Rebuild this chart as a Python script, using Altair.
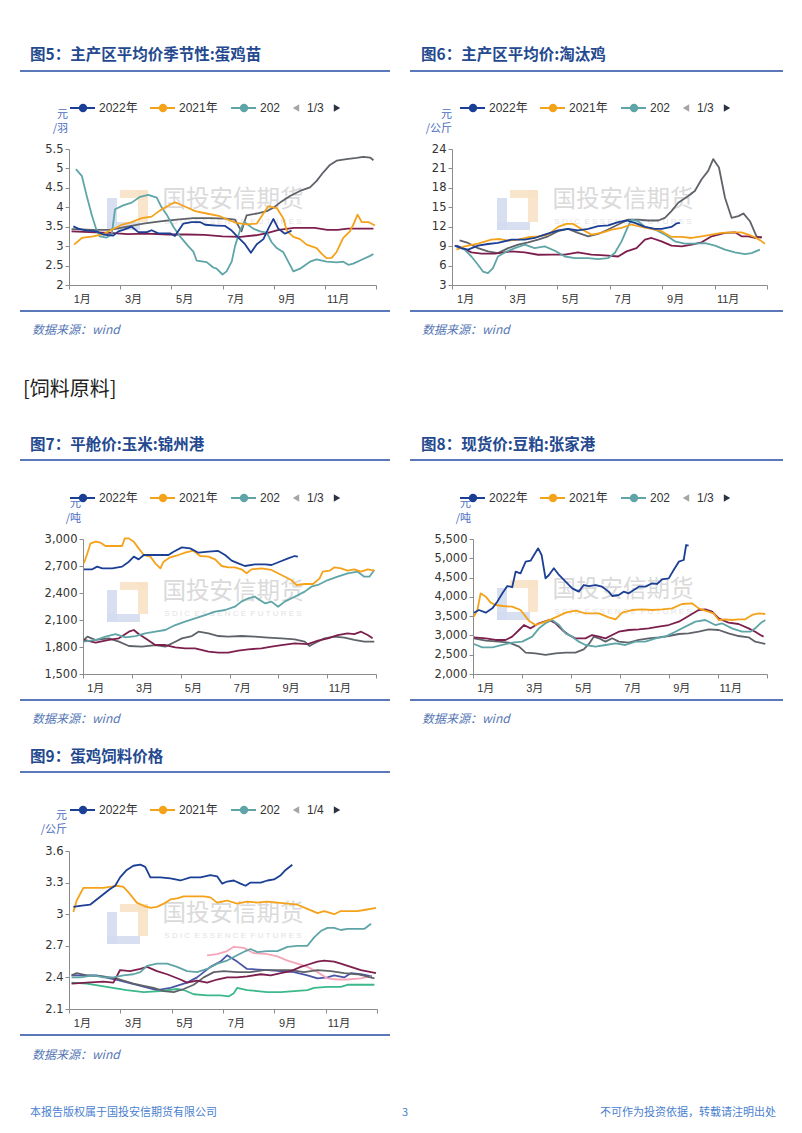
import altair as alt
import pandas as pd

# ---------------- data: x = months elapsed since 1 Jan (0..12), y = price ----------------
SERIES_NAMES = ["2022年", "2021年", "2020年", "2019年", "2018年", "2017年", "2016年", "2015年"]
SERIES_COLORS = ["#1b3f95", "#f5a21b", "#5fa5a8", "#7d1f4d", "#5f6369", "#f4a6b8", "#3cb88a", "#4b55a8"]
MONTH_TICKS = [0, 2, 4, 6, 8, 10, 12]

# 图5 蛋鸡苗 (元/羽)
P5_Y2022 = [(0.17,3.51),(0.36,3.45),(0.69,3.40),(1.08,3.38),(1.34,3.30),(1.73,3.27),(1.93,3.38),(2.12,3.42),(2.45,3.50),(2.71,3.36),(3.04,3.36),(3.23,3.41),(3.49,3.33),(3.95,3.33),(4.14,3.26),(4.47,3.58),(4.79,3.62),(5.12,3.62),(5.32,3.55),(5.77,3.53),(6.10,3.52),(6.36,3.40),(6.62,3.22),(6.88,3.05),(7.11,2.83),(7.34,3.05),(7.60,3.18),(7.79,3.45),(7.99,3.70),(8.18,3.45),(8.44,3.32),(8.70,3.40)]
P5_Y2021 = [(0.20,3.04),(0.50,3.21),(0.95,3.25),(1.34,3.31),(1.73,3.44),(2.06,3.55),(2.45,3.62),(2.84,3.72),(3.23,3.76),(3.56,3.92),(3.82,4.02),(4.14,4.13),(4.53,4.02),(4.93,3.90),(5.38,3.84),(5.90,3.77),(6.29,3.66),(6.55,3.60),(6.94,3.56),(7.34,3.58),(7.60,3.84),(7.79,4.03),(8.12,3.98),(8.38,3.71),(8.51,3.40),(8.77,3.24),(9.03,3.18),(9.29,3.04),(9.68,2.95),(9.88,2.80),(10.07,2.69),(10.27,2.70),(10.46,2.85),(10.72,3.21),(10.98,3.38),(11.11,3.55),(11.28,3.81),(11.44,3.62),(11.70,3.62),(11.96,3.53)]
P5_Y2020 = [(0.27,4.98),(0.50,4.81),(0.69,4.30),(0.89,3.80),(1.08,3.40),(1.21,3.25),(1.47,3.22),(1.67,3.30),(1.80,3.95),(2.12,4.05),(2.45,4.12),(2.78,4.27),(3.10,4.32),(3.43,4.25),(3.62,4.00),(3.82,3.81),(4.08,3.50),(4.34,3.25),(4.66,3.00),(4.86,2.86),(4.99,2.63),(5.38,2.59),(5.64,2.45),(5.77,2.42),(6.00,2.27),(6.16,2.35),(6.36,2.60),(6.49,3.00),(6.68,3.40),(6.85,3.62),(7.00,3.55),(7.20,3.45),(7.47,3.38),(7.73,3.35),(7.92,3.10),(8.12,2.95),(8.38,2.84),(8.57,2.60),(8.77,2.35),(9.03,2.42),(9.42,2.60),(9.68,2.66),(10.07,2.60),(10.46,2.58),(10.72,2.60),(10.92,2.52),(11.11,2.55),(11.44,2.65),(11.77,2.75),(11.90,2.80)]
P5_Y2019 = [(0.10,3.38),(0.80,3.36),(1.60,3.34),(2.30,3.31),(3.00,3.32),(3.90,3.30),(4.60,3.30),(5.30,3.29),(6.00,3.25),(6.70,3.24),(7.30,3.28),(7.70,3.33),(8.20,3.42),(8.80,3.47),(9.60,3.47),(10.10,3.42),(10.50,3.42),(10.90,3.45),(11.90,3.45)]
P5_Y2018 = [(0.10,3.44),(0.95,3.42),(1.60,3.42),(2.28,3.50),(2.90,3.58),(3.56,3.64),(4.21,3.68),(4.86,3.72),(5.51,3.72),(6.16,3.71),(6.49,3.68),(6.74,3.38),(6.94,3.79),(7.34,3.84),(7.73,3.90),(7.99,3.99),(8.25,4.12),(8.64,4.29),(9.03,4.42),(9.42,4.51),(9.68,4.68),(9.94,4.90),(10.20,5.09),(10.46,5.20),(10.85,5.24),(11.24,5.27),(11.50,5.30),(11.77,5.28),(11.90,5.21)]

# 图6 淘汰鸡 (元/公斤)
P6_Y2022 = [(0.10,9.07),(0.36,8.70),(0.61,8.45),(0.99,9.07),(1.37,9.33),(1.75,9.50),(2.26,10.0),(2.77,10.0),(3.15,10.26),(3.53,10.78),(4.04,11.45),(4.42,11.66),(4.80,11.45),(5.19,11.66),(5.57,12.08),(5.95,12.2),(6.33,12.7),(6.65,12.96),(6.97,12.6),(7.35,11.97),(7.73,11.66),(7.99,11.66),(8.36,11.97),(8.55,12.5),(8.68,12.6)]
P6_Y2021 = [(0.17,8.45),(0.48,8.97),(0.99,9.38),(1.50,10.0),(1.82,10.1),(2.14,9.85),(2.52,10.0),(2.90,10.37),(3.28,10.52),(3.66,10.78),(4.04,11.97),(4.36,12.44),(4.61,12.44),(4.93,11.66),(5.31,10.78),(5.69,11.04),(6.08,11.56),(6.46,11.82),(6.84,12.34),(7.22,11.97),(7.60,11.66),(7.98,11.3),(8.36,10.42),(8.75,10.42),(9.13,10.26),(9.51,10.52),(9.89,10.78),(10.27,11.04),(10.65,11.14),(11.03,11.14),(11.29,10.78),(11.54,10.37),(11.80,9.74),(11.92,9.38)]
P6_Y2020 = [(0.17,8.97),(0.48,8.45),(0.74,7.40),(0.99,6.12),(1.18,5.08),(1.37,4.82),(1.56,5.60),(1.75,7.40),(2.01,8.03),(2.39,8.70),(2.77,9.22),(3.15,8.70),(3.53,8.97),(3.92,8.29),(4.30,7.40),(4.68,7.15),(5.19,7.15),(5.57,7.00),(5.95,7.15),(6.20,7.93),(6.46,9.74),(6.71,12.08),(6.84,13.10),(7.09,12.85),(7.35,11.97),(7.73,11.56),(8.11,10.78),(8.49,9.74),(8.87,9.38),(9.25,9.38),(9.64,9.48),(10.02,9.07),(10.40,8.45),(10.78,8.03),(11.16,7.77),(11.41,7.93),(11.73,8.45)]
P6_Y2019 = [(0.17,9.07),(0.48,8.55),(0.74,8.03),(1.12,7.83),(1.63,7.83),(2.26,8.19),(2.77,8.03),(3.28,7.67),(3.79,7.70),(4.30,7.70),(4.80,8.03),(5.31,7.70),(5.82,7.57),(6.33,7.40),(6.65,8.19),(7.03,8.70),(7.35,10.0),(7.60,10.26),(7.98,9.74),(8.36,9.07),(8.75,8.97),(9.13,9.22),(9.51,9.59),(9.89,10.52),(10.40,11.04),(10.78,11.14),(11.03,10.52),(11.29,10.52),(11.54,10.26),(11.80,10.42)]
P6_Y2018 = [(0.29,9.90),(0.61,9.49),(0.99,8.70),(1.37,8.19),(1.75,7.93),(2.14,8.70),(2.52,9.22),(2.90,9.59),(3.28,10.0),(3.66,10.52),(4.04,11.3),(4.42,11.66),(4.80,11.04),(5.19,10.52),(5.57,10.88),(5.95,11.56),(6.33,12.34),(6.71,13.1),(7.09,13.1),(7.47,12.96),(7.86,12.96),(8.11,13.37),(8.36,14.41),(8.62,15.7),(9.00,16.74),(9.25,17.52),(9.51,19.33),(9.76,20.63),(9.95,22.44),(10.17,21.15),(10.40,16.48),(10.65,13.37),(10.91,13.63),(11.10,14.05),(11.35,12.85),(11.60,10.52),(11.80,10.26)]

# 图7 玉米 锦州港 (元/吨)
P7_Y2022 = [(0.04,2663),(0.38,2663),(0.58,2693),(0.79,2674),(1.20,2674),(1.60,2693),(1.88,2748),(2.08,2804),(2.28,2774),(2.49,2822),(2.96,2822),(3.50,2822),(3.71,2859),(4.05,2907),(4.39,2896),(4.73,2848),(5.14,2859),(5.54,2867),(5.82,2822),(6.09,2759),(6.36,2730),(6.63,2700),(7.04,2718),(7.45,2718),(7.72,2711),(8.13,2756),(8.40,2785),(8.67,2811),(8.80,2804)]
P7_Y2021 = [(0.04,2730),(0.18,2841),(0.31,2952),(0.52,2970),(0.72,2959),(0.92,2922),(1.33,2922),(1.60,2922),(1.71,3007),(1.88,3007),(2.08,2970),(2.28,2896),(2.49,2822),(2.76,2804),(2.96,2730),(3.17,2674),(3.30,2748),(3.57,2796),(3.91,2822),(4.18,2848),(4.52,2870),(4.80,2811),(5.14,2804),(5.41,2774),(5.68,2700),(5.95,2685),(6.22,2685),(6.49,2663),(6.70,2619),(6.90,2663),(7.31,2674),(7.72,2656),(8.13,2600),(8.53,2544),(8.74,2489),(9.08,2500),(9.42,2500),(9.69,2563),(9.82,2637),(10.10,2648),(10.30,2685),(10.57,2674),(10.84,2648),(11.11,2663),(11.39,2637),(11.66,2663),(11.93,2648)]
P7_Y2020 = [(0.04,1859),(0.52,1878),(0.92,1915),(1.33,1944),(1.74,1907),(2.15,1922),(2.55,1952),(2.96,1970),(3.37,1989),(3.78,2044),(4.18,2081),(4.59,2118),(5.00,2155),(5.41,2193),(5.82,2211),(6.22,2248),(6.49,2304),(6.77,2341),(7.04,2359),(7.24,2322),(7.45,2285),(7.72,2304),(7.99,2248),(8.26,2304),(8.67,2359),(9.08,2415),(9.35,2470),(9.62,2489),(10.03,2544),(10.43,2581),(10.84,2619),(11.25,2637),(11.52,2581),(11.73,2581),(11.93,2656)]
P7_Y2019 = [(0.04,1878),(0.52,1848),(1.06,1878),(1.47,1896),(1.88,1970),(2.08,1989),(2.28,1944),(2.55,1896),(2.96,1822),(3.37,1822),(3.78,1796),(4.18,1785),(4.59,1785),(5.14,1748),(5.54,1737),(5.95,1737),(6.36,1759),(6.77,1774),(7.31,1785),(7.72,1804),(8.13,1822),(8.67,1841),(9.21,1833),(9.62,1870),(10.03,1896),(10.43,1933),(10.84,1952),(11.11,1944),(11.39,1970),(11.66,1933),(11.86,1896)]
P7_Y2018 = [(0.04,1878),(0.18,1915),(0.52,1878),(1.06,1896),(1.47,1859),(1.88,1811),(2.42,1804),(2.96,1822),(3.37,1804),(3.78,1859),(4.05,1896),(4.46,1922),(4.73,1970),(5.14,1952),(5.54,1922),(5.95,1915),(6.49,1922),(7.04,1915),(7.58,1904),(8.13,1896),(8.67,1885),(9.08,1859),(9.28,1811),(9.48,1841),(9.89,1896),(10.30,1915),(10.71,1904),(11.11,1878),(11.52,1859),(11.93,1859)]

# 图8 豆粕 张家港 (元/吨)
P8_Y2022 = [(0.04,3590),(0.24,3659),(0.52,3590),(0.79,3702),(0.99,3875),(1.20,4091),(1.40,4281),(1.60,4250),(1.74,4653),(1.94,4610),(2.15,4912),(2.35,4938),(2.49,5085),(2.66,5258),(2.80,5085),(2.96,4480),(3.10,4567),(3.30,4740),(3.51,4567),(3.78,4394),(4.05,4221),(4.32,4135),(4.52,4307),(4.73,4281),(5.00,4307),(5.27,4264),(5.54,4135),(5.68,4022),(5.95,4048),(6.15,4135),(6.36,4091),(6.56,4178),(6.77,4264),(7.04,4264),(7.31,4351),(7.51,4334),(7.72,4454),(7.99,4480),(8.19,4696),(8.40,4912),(8.60,4956),(8.70,5344),(8.80,5330)]
P8_Y2021 = [(0.04,3486),(0.18,3659),(0.31,4091),(0.52,4005),(0.72,3849),(0.92,3789),(1.20,3763),(1.60,3745),(1.94,3659),(2.28,3383),(2.55,3270),(2.96,3357),(3.37,3469),(3.78,3590),(4.18,3642),(4.59,3573),(5.14,3573),(5.54,3469),(5.82,3417),(6.09,3590),(6.49,3659),(6.90,3677),(7.31,3659),(7.72,3677),(8.13,3702),(8.53,3815),(8.94,3832),(9.21,3702),(9.48,3642),(9.82,3573),(10.03,3400),(10.30,3417),(10.57,3400),(10.84,3417),(11.11,3417),(11.39,3530),(11.66,3573),(11.93,3556)]
P8_Y2020 = [(0.04,2778),(0.38,2691),(0.79,2691),(1.20,2752),(1.60,2812),(2.01,2838),(2.42,2968),(2.69,3184),(2.96,3314),(3.23,3400),(3.51,3270),(3.78,3054),(4.05,2968),(4.32,2838),(4.59,2752),(5.00,2709),(5.41,2752),(5.82,2795),(6.22,2752),(6.63,2838),(7.04,2838),(7.45,2925),(7.85,2968),(8.26,3097),(8.67,3227),(9.08,3357),(9.48,3400),(9.89,3270),(10.16,3314),(10.57,3184),(10.98,3097),(11.32,3097),(11.52,3184),(11.73,3314),(11.93,3400)]
P8_Y2019 = [(0.04,2951),(0.52,2925),(0.92,2882),(1.33,2882),(1.60,2968),(1.88,3141),(2.08,3270),(2.35,3184),(2.69,3314),(3.10,3400),(3.37,3314),(3.64,3141),(3.91,3011),(4.18,2925),(4.59,2925),(4.86,3011),(5.14,2968),(5.41,2925),(5.68,3011),(5.95,3097),(6.36,3141),(6.77,3158),(7.17,3184),(7.58,3227),(7.99,3270),(8.40,3357),(8.80,3504),(9.21,3659),(9.48,3677),(9.76,3616),(10.03,3443),(10.43,3331),(10.84,3296),(11.25,3184),(11.52,3097),(11.73,3011),(11.86,2968)]
P8_Y2018 = [(0.04,2925),(0.52,2864),(1.06,2838),(1.47,2812),(1.88,2709),(2.15,2553),(2.55,2536),(2.96,2493),(3.37,2536),(3.78,2553),(4.18,2553),(4.52,2640),(4.73,2778),(4.93,2968),(5.14,2925),(5.41,2838),(5.68,2925),(5.95,2838),(6.36,2812),(6.77,2882),(7.17,2925),(7.58,2951),(7.99,2985),(8.40,3037),(8.80,3054),(9.21,3097),(9.62,3158),(10.03,3141),(10.43,3054),(10.84,2985),(11.25,2951),(11.52,2838),(11.93,2778)]

# 图9 蛋鸡饲料价格 (元/公斤)
P9_Y2022 = [(0.17,3.07),(0.43,3.08),(0.82,3.09),(1.08,3.14),(1.34,3.19),(1.60,3.24),(1.80,3.27),(1.99,3.35),(2.25,3.42),(2.51,3.46),(2.78,3.47),(2.97,3.45),(3.17,3.35),(3.56,3.35),(3.95,3.34),(4.34,3.32),(4.73,3.35),(5.12,3.35),(5.51,3.37),(5.77,3.36),(5.97,3.29),(6.16,3.31),(6.42,3.32),(6.68,3.29),(6.88,3.27),(7.07,3.30),(7.47,3.30),(7.73,3.32),(7.99,3.33),(8.25,3.37),(8.44,3.42),(8.70,3.47)]
P9_Y2021 = [(0.17,3.02),(0.30,3.13),(0.56,3.25),(0.95,3.25),(1.34,3.25),(1.60,3.26),(1.86,3.27),(2.12,3.26),(2.38,3.19),(2.64,3.11),(2.91,3.08),(3.17,3.06),(3.43,3.07),(3.69,3.10),(3.95,3.14),(4.21,3.15),(4.47,3.17),(4.86,3.17),(5.25,3.17),(5.51,3.16),(5.77,3.11),(6.16,3.13),(6.55,3.10),(6.94,3.12),(7.34,3.11),(7.73,3.12),(8.12,3.11),(8.51,3.10),(8.90,3.09),(9.29,3.05),(9.68,3.01),(9.94,3.03),(10.33,3.00),(10.59,3.03),(10.98,3.03),(11.24,3.03),(11.50,3.04),(11.96,3.06)]
P9_Y2020 = [(0.10,2.40),(0.43,2.40),(0.95,2.42),(1.34,2.40),(1.73,2.40),(2.12,2.42),(2.51,2.43),(2.78,2.45),(3.04,2.51),(3.43,2.53),(3.82,2.53),(4.21,2.50),(4.60,2.46),(4.99,2.45),(5.38,2.48),(5.77,2.53),(6.16,2.56),(6.55,2.61),(6.88,2.65),(7.07,2.67),(7.34,2.64),(7.73,2.65),(8.12,2.65),(8.51,2.69),(8.90,2.70),(9.29,2.70),(9.55,2.78),(9.81,2.84),(10.07,2.87),(10.33,2.87),(10.59,2.85),(10.85,2.86),(11.11,2.86),(11.50,2.86),(11.77,2.91)]
P9_Y2019 = [(0.10,2.34),(0.69,2.35),(1.34,2.36),(1.73,2.35),(1.99,2.47),(2.38,2.46),(2.78,2.48),(3.04,2.50),(3.43,2.46),(3.82,2.43),(4.34,2.38),(4.60,2.35),(4.99,2.37),(5.38,2.35),(5.77,2.38),(6.16,2.40),(6.55,2.40),(6.94,2.41),(7.47,2.43),(7.86,2.42),(8.25,2.44),(8.64,2.46),(9.03,2.50),(9.29,2.52),(9.68,2.55),(9.94,2.56),(10.33,2.55),(10.59,2.53),(10.98,2.50),(11.37,2.47),(11.77,2.45),(11.96,2.44)]
P9_Y2018 = [(0.10,2.42),(0.30,2.44),(0.69,2.42),(1.34,2.41),(1.99,2.38),(2.51,2.34),(2.91,2.32),(3.30,2.30),(3.69,2.27),(4.08,2.26),(4.47,2.29),(4.86,2.33),(5.25,2.40),(5.64,2.45),(6.03,2.46),(6.55,2.45),(7.07,2.45),(7.60,2.47),(8.12,2.47),(8.64,2.47),(9.16,2.45),(9.68,2.47),(10.20,2.46),(10.72,2.44),(11.24,2.43),(11.60,2.41),(11.90,2.39)]
P9_Y2017 = [(5.38,2.61),(5.77,2.62),(6.16,2.65),(6.42,2.69),(6.81,2.68),(7.20,2.63),(7.73,2.62),(8.12,2.60),(8.51,2.56),(8.90,2.53),(9.29,2.50),(9.68,2.45),(10.07,2.39),(10.46,2.38),(10.85,2.38),(11.37,2.39),(11.77,2.41)]
P9_Y2016 = [(0.10,2.35),(0.69,2.34),(1.47,2.31),(2.25,2.28),(2.91,2.26),(3.56,2.27),(4.21,2.29),(4.47,2.28),(4.86,2.24),(5.38,2.23),(5.90,2.23),(6.23,2.22),(6.42,2.25),(6.55,2.30),(6.94,2.28),(7.34,2.27),(7.73,2.26),(8.25,2.26),(8.77,2.27),(9.29,2.28),(9.55,2.30),(10.07,2.31),(10.59,2.31),(10.85,2.33),(11.37,2.33),(11.90,2.33)]
P9_Y2015 = [(0.10,2.42),(0.69,2.42),(1.08,2.42),(1.99,2.37),(2.64,2.33),(3.43,2.28),(3.95,2.30),(4.60,2.35),(4.99,2.40),(5.51,2.50),(5.90,2.55),(6.16,2.61),(6.55,2.55),(6.94,2.48),(7.73,2.47),(8.77,2.45),(9.29,2.42),(9.68,2.39),(10.07,2.40),(10.33,2.42),(10.72,2.40),(10.98,2.44),(11.37,2.43),(11.80,2.41)]

# ---------------- styling ----------------
FONT_CJK = "Noto Sans CJK SC"
FONT_NUM = "Liberation Sans, Noto Sans CJK SC"
TITLE_COLOR = "#24498f"
RULE_COLOR = "#5b79b8"
SRC_COLOR = "#5577b5"
UNIT_COLOR = "#4a6cc0"
AXIS_COLOR = "#8c8c8c"
NB = "\u00a0"

ONE = pd.DataFrame({"k": [0]})


def T(text, px, py, ox, oy, **kw):
    return alt.Chart(ONE).mark_text(text=text, **kw).encode(
        x=alt.value(px - ox), y=alt.value(py - oy))


def R(x1, x2, y, ox, oy, color, width):
    return alt.Chart(ONE).mark_rule(color=color, strokeWidth=width).encode(
        x=alt.value(x1 - ox), x2=alt.value(x2 - ox), y=alt.value(y - oy))


def B(x1, x2, y1, y2, ox, oy, color, opacity=1.0):
    return alt.Chart(ONE).mark_rect(color=color, opacity=opacity).encode(
        x=alt.value(x1 - ox), x2=alt.value(x2 - ox), y=alt.value(y1 - oy), y2=alt.value(y2 - oy))


def P(px, py, ox, oy, color, shape="circle", size=70):
    return alt.Chart(ONE).mark_point(filled=True, opacity=1, shape=shape, size=size, color=color).encode(
        x=alt.value(px - ox), y=alt.value(py - oy))


def watermark(cx, cy, ox, oy):
    o = "#f8e2c6"
    b = "#d3dbef"
    sdic = (NB * 2).join(NB.join(w) for w in ["SDIC", "ESSENCE", "FUTURES"])
    return [
        B(cx - 113, cx - 85, cy - 10, cy - 2, ox, oy, o, 0.9),
        B(cx - 95, cx - 85, cy - 10, cy + 22, ox, oy, o, 0.9),
        B(cx - 126, cx - 116, cy - 2, cy + 30, ox, oy, b, 0.9),
        B(cx - 126, cx - 93, cy + 22, cy + 30, ox, oy, b, 0.9),
        T("国投安信期货", cx, cy, ox, oy, font=FONT_CJK, fontSize=23.5, color="#dadada"),
        T(sdic, cx, cy + 22, ox, oy, font="Liberation Sans", fontSize=8, color="#e2e2e2"),
    ]


def legend(base, ly, page, ox, oy):
    out = []
    items = [("2022年", SERIES_COLORS[0]), ("2021年", SERIES_COLORS[1]), ("202", SERIES_COLORS[2])]
    for (lab, col), d in zip(items, [0, 80, 161]):
        x0 = base + d
        out.append(R(x0, x0 + 25, ly, ox, oy, col, 2))
        out.append(P(x0 + 13, ly, ox, oy, col, "circle", 70))
        out.append(T(lab, x0 + 29, ly, ox, oy, align="left", baseline="middle",
                     font=FONT_NUM, fontSize=12, color="#333333"))
    out.append(P(base + 226, ly, ox, oy, "#a5a5a5", "triangle-left", 55))
    out.append(T(page, base + 237, ly, ox, oy, align="left", baseline="middle",
                 font=FONT_NUM, fontSize=12, color="#333333"))
    out.append(P(base + 267, ly, ox, oy, "#2b3440", "triangle-right", 55))
    return out


ROWS = {
    "A": dict(title_y=55, line_y=71, legend_y=108, unit_y=(115, 129), bottom_y=311, source_y=330),
    "B": dict(title_y=445, line_y=460, legend_y=498, unit_y=(504, 518.5), bottom_y=700, source_y=719),
    "C": dict(title_y=757, line_y=772, legend_y=810, unit_y=(816, 830), bottom_y=1035, source_y=1055),
}
COLS = {
    "L": dict(title_x=30, rule=(20, 390), legend_x=70, source_x=32),
    "R": dict(title_x=421, rule=(410, 783), legend_x=460, source_x=422),
}


def panel(series, ydom, yvals, yfmt, w, h, xmin, ox, oy, col, row, title, unit, unit_x, page, wm, extra=()):
    recs = []
    for name, pts in reversed(series):
        for m, v in pts:
            recs.append({"m": m, "v": v, "s": name})
    df = pd.DataFrame(recs)
    xscale = alt.Scale(domain=[0, 12], nice=False, zero=False)
    if xmin:
        xscale = alt.Scale(domain=[0, 12], nice=False, zero=False, rangeMin=xmin)
    lines = alt.Chart(df).mark_line(strokeWidth=1.8, strokeJoin="round").encode(
        x=alt.X("m:Q", scale=xscale,
                axis=alt.Axis(values=MONTH_TICKS, title=None, grid=False,
                              labelExpr="datum.value < 12 ? (datum.value + 1) + '月' : ''",
                              labelAlign="center", labelOffset=(w - xmin) / 24.0, labelBaseline="top",
                              labelPadding=4, labelFont=FONT_NUM, labelFontSize=11,
                              labelColor="#333333", labelFlush=False, labelOverlap=False,
                              domainColor=AXIS_COLOR, tickColor=AXIS_COLOR, tickSize=4)),
        y=alt.Y("v:Q", scale=alt.Scale(domain=ydom, nice=False, zero=False),
                axis=alt.Axis(values=yvals, format=yfmt, title=None, grid=False, offset=-xmin,
                              labelFont="DejaVu Sans", labelFontSize=11.5, labelColor="#333333",
                              labelPadding=2, labelFlush=False, labelOverlap=False,
                              domainColor=AXIS_COLOR, tickColor=AXIS_COLOR, tickSize=4)),
        color=alt.Color("s:N", scale=alt.Scale(domain=SERIES_NAMES, range=SERIES_COLORS), legend=None),
    )
    r = ROWS[row]
    c = COLS[col]
    deco = [
        T(title, c["title_x"], r["title_y"], ox, oy, align="left", baseline="middle",
          font=FONT_CJK, fontSize=15.5, fontWeight="bold", color=TITLE_COLOR),
        R(c["rule"][0], c["rule"][1], r["line_y"], ox, oy, RULE_COLOR, 1.8),
        R(c["rule"][0], c["rule"][1], r["bottom_y"], ox, oy, RULE_COLOR, 1.8),
        T("数据来源：wind", c["source_x"], r["source_y"], ox, oy, align="left", baseline="middle",
          font=FONT_CJK, fontSize=12, fontStyle="italic", color=SRC_COLOR),
        T(unit[0], unit_x, r["unit_y"][0], ox, oy, align="right", baseline="middle",
          font=FONT_CJK, fontSize=11, color=UNIT_COLOR),
        T(unit[1], unit_x, r["unit_y"][1], ox, oy, align="right", baseline="middle",
          font=FONT_CJK, fontSize=11, color=UNIT_COLOR),
    ]
    deco += legend(c["legend_x"], r["legend_y"], page, ox, oy)
    layers = watermark(wm[0], wm[1], ox, oy) + [lines] + deco + list(extra)
    return alt.layer(*layers).properties(width=w, height=h)


def spacer(w, h):
    return alt.Chart(ONE).mark_point(opacity=0).encode(
        x=alt.value(0), y=alt.value(0)).properties(width=w, height=h)


# ---- panels (view origins on the page: left column x=69, right column x=452) ----
p5 = panel([("2022年", P5_Y2022), ("2021年", P5_Y2021), ("2020年", P5_Y2020), ("2019年", P5_Y2019), ("2018年", P5_Y2018)],
           [2, 5.5], [2, 2.5, 3, 3.5, 4, 4.5, 5, 5.5], "~g", 307, 136, 0, 69, 149, "L", "A",
           "图5：主产区平均价季节性:蛋鸡苗", ("元", "/羽"), 68, "1/3", (233, 200),
           extra=[B(8, 9, 8, 9, 69, 149, "#ffffff", 0.0)])
p6 = panel([("2022年", P6_Y2022), ("2021年", P6_Y2021), ("2020年", P6_Y2020), ("2019年", P6_Y2019), ("2018年", P6_Y2018)],
           [3, 24], [3, 6, 9, 12, 15, 18, 21, 24], "d", 315, 136, 0, 452, 149, "R", "A",
           "图6：主产区平均价:淘汰鸡", ("元", "/公斤"), 452, "1/3", (623, 200))
p7 = panel([("2022年", P7_Y2022), ("2021年", P7_Y2021), ("2020年", P7_Y2020), ("2019年", P7_Y2019), ("2018年", P7_Y2018)],
           [1500, 3000], [1500, 1800, 2100, 2400, 2700, 3000], ",d", 307, 135, 14, 69, 539, "L", "B",
           "图7：平舱价:玉米:锦州港", ("元", "/吨"), 81, "1/3", (233, 592),
           extra=[T("[饲料原料]", 23, 390, 69, 539, align="left", baseline="middle",
                    font=FONT_CJK, fontSize=20, color="#222222")])
p8 = panel([("2022年", P8_Y2022), ("2021年", P8_Y2021), ("2020年", P8_Y2020), ("2019年", P8_Y2019), ("2018年", P8_Y2018)],
           [2000, 5500], [2000, 2500, 3000, 3500, 4000, 4500, 5000, 5500], ",d", 315, 135, 21, 452, 539, "R", "B",
           "图8：现货价:豆粕:张家港", ("元", "/吨"), 471, "1/3", (623, 590))
p9 = panel([("2022年", P9_Y2022), ("2021年", P9_Y2021), ("2020年", P9_Y2020), ("2019年", P9_Y2019),
            ("2018年", P9_Y2018), ("2017年", P9_Y2017), ("2016年", P9_Y2016), ("2015年", P9_Y2015)],
           [2.1, 3.6], [2.1, 2.4, 2.7, 3.0, 3.3, 3.6], "~g", 308, 158, 0, 69, 851, "L", "C",
           "图9：蛋鸡饲料价格", ("元", "/公斤"), 67, "1/4", (233, 914),
           extra=[T("本报告版权属于国投安信期货有限公司", 30, 1113, 69, 851, align="left", baseline="middle",
                    font=FONT_CJK, fontSize=11, color="#4a7fd0"),
                  T("3", 405, 1113, 69, 851, align="center", baseline="middle",
                    font=FONT_CJK, fontSize=11, color="#4a7fd0"),
                  T("不可作为投资依据，转载请注明出处", 776, 1113, 69, 851, align="right", baseline="middle",
                    font=FONT_CJK, fontSize=11, color="#4a7fd0")])

# grid: 2 columns (col widths 308 / 315, gap 75); spacer rows give the vertical gaps
cells = [
    p5, p6,
    spacer(1, 254), spacer(1, 1),
    p7, p8,
    spacer(1, 177), spacer(1, 1),
    p9, spacer(1, 1),
]

chart = alt.concat(
    *cells, columns=2, spacing={"row": 0, "column": 75}, bounds="flush", align="each",
).properties(padding=0).configure(background="white").configure_view(strokeWidth=0)

chart.save("out.html", embed_options={"renderer": "svg", "actions": False})
